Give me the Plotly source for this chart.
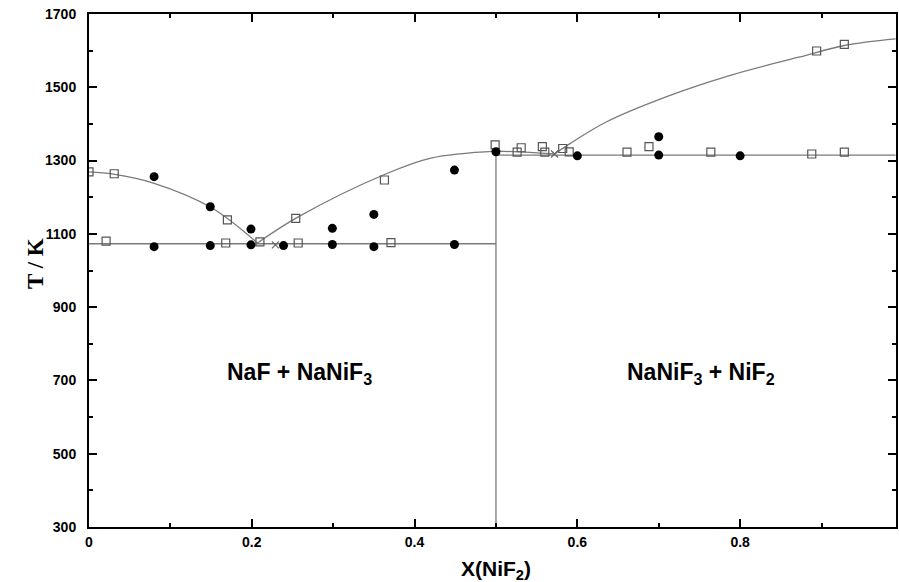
import plotly.graph_objects as go

# ---- data ----
# liquidus curves (x, T)
liq1_x = [0.0, 0.03, 0.08, 0.15, 0.207]
liq1_t = [1269, 1263, 1238, 1172, 1075]
liq2_x = [0.207, 0.256, 0.363, 0.42, 0.50]
liq2_t = [1075, 1145, 1262, 1307, 1326]
liq3_x = [0.50, 0.535, 0.572]
liq3_t = [1326, 1323, 1318]
liq4_x = [0.572, 0.59, 0.636, 0.709, 0.79, 0.872, 0.928, 0.991]
liq4_t = [1318, 1345, 1406, 1474, 1534, 1582, 1614, 1632]

eut_x = [0.0, 0.5]
eut_t = [1073, 1073]
per_x = [0.5, 0.991]
per_t = [1315, 1315]
vert_x = [0.5, 0.5]
vert_t = [300, 1326]

# open squares
sq_x = [0.0, 0.031, 0.021, 0.170, 0.168, 0.210, 0.254, 0.257, 0.363, 0.371, 0.499,
        0.526, 0.531, 0.557, 0.560, 0.582, 0.590, 0.661, 0.688, 0.764, 0.888, 0.928,
        0.894, 0.928]
sq_t = [1269, 1264, 1080, 1138, 1075, 1078, 1142, 1075, 1247, 1076, 1343,
        1323, 1335, 1338, 1323, 1333, 1324, 1323, 1338, 1323, 1318, 1323,
        1599, 1617]

# filled circles
ci_x = [0.080, 0.080, 0.149, 0.149, 0.199, 0.199, 0.239, 0.299, 0.299, 0.350, 0.350,
        0.449, 0.449, 0.500, 0.600, 0.700, 0.700, 0.800]
ci_t = [1256, 1065, 1174, 1068, 1113, 1070, 1068, 1115, 1071, 1153, 1065,
        1274, 1071, 1324, 1313, 1365, 1315, 1313]

# crosses
cr_x = [0.229, 0.572]
cr_t = [1070, 1318]

# region labels
lab_x = [0.259, 0.752]
lab_t = [720, 720]
lab_text = ["NaF + NaNiF<sub>3</sub>", "NaNiF<sub>3</sub> + NiF<sub>2</sub>"]

x_ticks = [0, 0.2, 0.4, 0.6, 0.8]
x_ticktext = ["0", "0.2", "0.4", "0.6", "0.8"]
y_ticks = [300, 500, 700, 900, 1100, 1300, 1500, 1700]

LINE = "#7a7a7a"
fig = go.Figure()

for xs, ts, shape in [(liq1_x, liq1_t, "spline"), (liq2_x, liq2_t, "spline"),
                      (liq3_x, liq3_t, "spline"), (liq4_x, liq4_t, "spline"),
                      (eut_x, eut_t, "linear"), (per_x, per_t, "linear"),
                      (vert_x, vert_t, "linear")]:
    fig.add_trace(go.Scatter(x=xs, y=ts, mode="lines",
                             line=dict(color=LINE, width=1.3, shape=shape, smoothing=1.0),
                             hoverinfo="skip", showlegend=False, cliponaxis=False))

fig.add_trace(go.Scatter(x=sq_x, y=sq_t, mode="markers",
                         marker=dict(symbol="square-open", size=8, color="#555555",
                                     line=dict(width=1.2, color="#555555")),
                         showlegend=False))
fig.add_trace(go.Scatter(x=ci_x, y=ci_t, mode="markers",
                         marker=dict(symbol="circle", size=9, color="black"),
                         showlegend=False))
fig.add_trace(go.Scatter(x=cr_x, y=cr_t, mode="markers",
                         marker=dict(symbol="x-thin", size=7,
                                     line=dict(width=1.2, color="#666666")),
                         showlegend=False))

for x, t, s in zip(lab_x, lab_t, lab_text):
    fig.add_annotation(x=x, y=t, text=s, showarrow=False, xanchor="center", yanchor="middle",
                       font=dict(family="Liberation Sans, Arial", size=23, color="black",
                                 weight="bold"))

fig.add_annotation(xref="paper", yref="paper", x=0, y=0.5, xshift=-68, yshift=7,
                   text="T / K", textangle=-90, showarrow=False,
                   font=dict(family="Liberation Serif, Times New Roman", size=23,
                             color="black", weight="bold"))
fig.add_annotation(xref="x", yref="paper", x=0.5, y=0, yshift=-43, yanchor="middle",
                   text="X(NiF<sub>2</sub>)", showarrow=False,
                   font=dict(family="Liberation Sans, Arial", size=21, color="black",
                             weight="bold"))

tickfont = dict(family="Liberation Sans, Arial", size=14, color="black", weight="bold")
fig.update_xaxes(range=[0, 0.9915], tickvals=x_ticks, ticktext=x_ticktext,
                 ticks="inside", ticklen=8, tickwidth=2, tickcolor="black",
                 minor=dict(dtick=0.1, tick0=0, ticks="inside", ticklen=4, tickwidth=2,
                            tickcolor="black"),
                 showline=True, linecolor="black", linewidth=2, mirror="ticks",
                 showgrid=False, zeroline=False, tickfont=tickfont, ticklabelstandoff=1)
fig.update_yaxes(range=[300, 1700], tickvals=y_ticks,
                 ticks="inside", ticklen=8, tickwidth=2, tickcolor="black",
                 minor=dict(dtick=100, tick0=300, ticks="inside", ticklen=4, tickwidth=2,
                            tickcolor="black"),
                 showline=True, linecolor="black", linewidth=2, mirror="ticks",
                 showgrid=False, zeroline=False, tickfont=tickfont, ticklabelstandoff=8)

fig.update_layout(width=899, height=582, plot_bgcolor="white", paper_bgcolor="white",
                  margin=dict(l=89, r=1, t=14, b=55), showlegend=False)

fig.write_html("out.html")
